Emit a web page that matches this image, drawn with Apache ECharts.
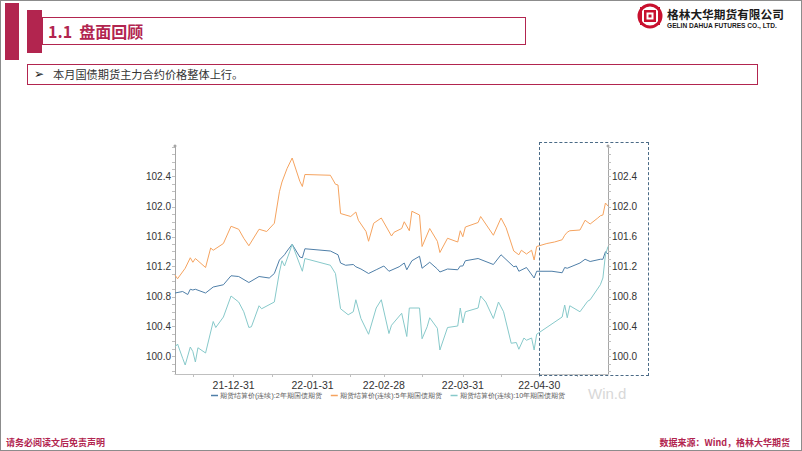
<!DOCTYPE html>
<html>
<head>
<meta charset="utf-8">
<script src="https://cdn.jsdelivr.net/npm/echarts@6/dist/echarts.min.js"></script>
<style>
  html,body{margin:0;padding:0;background:#fff;}
  body{width:802px;height:451px;position:relative;overflow:hidden;font-family:"Noto Sans CJK SC","Noto Sans",sans-serif;}
  .abs{position:absolute;}
  #chart{position:absolute;left:0;top:0;width:802px;height:451px;}
</style>
</head>
<body>
<div id="chart"></div>
<div class="abs" style="left:0;top:0;width:802px;height:451px;box-sizing:border-box;border:1px solid #8c8c8c;pointer-events:none;"></div>
<!-- header bars and title -->
<div class="abs" style="left:5px;top:3px;width:14px;height:57px;background:#b2254f;"></div>
<div class="abs" style="left:42px;top:17px;width:484px;height:28px;box-sizing:border-box;border:1px solid #b2254f;background:#fff;"></div>
<div class="abs" style="left:27px;top:10px;width:15px;height:43px;background:#b2254f;"></div>
<div class="abs" style="left:48px;top:17px;height:28px;line-height:28px;font-size:16px;font-weight:bold;color:#b2254f;white-space:nowrap;">1.1&nbsp;&nbsp;盘面回顾</div>
<!-- logo -->
<svg class="abs" style="left:636px;top:3px;" width="28" height="26" viewBox="0 0 28 26">
  <circle cx="14" cy="13" r="11" fill="none" stroke="#c8102e" stroke-width="3"/>
  <rect x="8" y="7" width="12" height="12" fill="#c8102e"/>
  <rect x="10.5" y="9.5" width="7" height="7" fill="#fff"/>
  <rect x="12.5" y="11.5" width="3" height="3" fill="#c8102e"/>
  <rect x="4" y="4" width="2" height="18" fill="#c8102e"/>
  <rect x="22" y="4" width="2" height="18" fill="#c8102e"/>
</svg>
<div class="abs" style="left:667px;top:6px;font-size:11.7px;font-weight:bold;color:#1a1a1a;white-space:nowrap;line-height:16px;">格林大华期货有限公司</div>
<div class="abs" style="left:667px;top:22px;font-size:6.6px;font-weight:bold;color:#1a1a1a;white-space:nowrap;line-height:8px;font-family:'Liberation Sans',Arial,sans-serif;">GELIN DAHUA FUTURES CO., LTD.</div>
<!-- bullet box -->
<div class="abs" style="left:27px;top:64px;width:731px;height:21px;box-sizing:border-box;border:1px solid #b2254f;"></div>
<div class="abs" style="left:34px;top:64px;height:21px;line-height:21px;font-size:12px;color:#222;font-family:'DejaVu Sans',sans-serif;">➢</div>
<div class="abs" style="left:53px;top:64px;height:21px;line-height:21px;font-size:11.2px;color:#333;white-space:nowrap;font-family:'Noto Sans CJK SC',serif;">本月国债期货主力合约价格整体上行。</div>
<!-- highlight box & watermark -->
<div class="abs" style="left:539px;top:142px;width:110px;height:234px;box-sizing:border-box;border:1px dashed #4a6a86;pointer-events:none;"></div>
<div class="abs" style="left:588px;top:385px;font-size:15px;color:#d8d8d8;font-family:'Liberation Sans',sans-serif;">Win.d</div>
<!-- footer -->
<div class="abs" style="left:6px;top:437px;font-size:9px;font-weight:bold;color:#b2254f;white-space:nowrap;line-height:12px;">请务必阅读文后免责声明</div>
<div class="abs" style="right:12px;top:437px;font-size:9px;font-weight:bold;color:#b2254f;white-space:nowrap;line-height:12px;">数据来源：Wind，格林大华期货</div>

<script>
// ---- data ----
const seriesNames = ['期货结算价(连续):2年期国债期货','期货结算价(连续):5年期国债期货','期货结算价(连续):10年期国债期货'];

const dates2y = ['2021-12-08','2021-12-11','2021-12-13','2021-12-14','2021-12-15','2021-12-16','2021-12-20','2021-12-23','2021-12-27','2021-12-30',
 '2022-01-02','2022-01-06','2022-01-10','2022-01-14','2022-01-16','2022-01-18','2022-01-20','2022-01-21','2022-01-23','2022-01-26','2022-01-27','2022-01-28',
 '2022-02-07','2022-02-10','2022-02-11','2022-02-13','2022-02-16','2022-02-17','2022-02-19','2022-02-22','2022-02-25','2022-02-28',
 '2022-03-02','2022-03-06','2022-03-08','2022-03-09','2022-03-11','2022-03-14','2022-03-15','2022-03-18','2022-03-21','2022-03-22','2022-03-25','2022-03-29','2022-03-30','2022-03-31',
 '2022-04-01','2022-04-06','2022-04-12','2022-04-15','2022-04-20','2022-04-21','2022-04-22','2022-04-25','2022-04-28','2022-04-29',
 '2022-05-05','2022-05-09','2022-05-10','2022-05-11','2022-05-16','2022-05-18','2022-05-20','2022-05-24','2022-05-25','2022-05-26','2022-05-27'];
const values2y = [100.85,100.87,100.83,100.90,100.89,100.90,100.85,100.93,100.96,101.08,
 101.07,100.99,101.07,101.05,101.11,101.29,101.36,101.41,101.50,101.33,101.32,101.44,
 101.41,101.36,101.25,101.22,101.23,101.20,101.17,101.11,101.16,101.21,
 101.14,101.20,101.25,101.16,101.28,101.34,101.18,101.26,101.17,101.13,101.17,101.16,101.21,101.21,
 101.28,101.31,101.23,101.36,101.20,101.21,101.14,101.19,101.05,101.14,
 101.14,101.12,101.19,101.18,101.25,101.30,101.27,101.30,101.30,101.40,101.37];

const dates5y = ['2021-12-08','2021-12-09','2021-12-12','2021-12-14','2021-12-15','2021-12-16','2021-12-20','2021-12-22','2021-12-23','2021-12-27','2021-12-30',
 '2022-01-02','2022-01-04','2022-01-06','2022-01-10','2022-01-13','2022-01-16','2022-01-18','2022-01-19','2022-01-21','2022-01-23','2022-01-26','2022-01-27','2022-01-28',
 '2022-02-07','2022-02-09','2022-02-10','2022-02-11','2022-02-15','2022-02-17','2022-02-18','2022-02-21','2022-02-22','2022-02-24','2022-02-27',
 '2022-03-03','2022-03-04','2022-03-07','2022-03-08','2022-03-10','2022-03-11','2022-03-14','2022-03-15','2022-03-18','2022-03-21','2022-03-22','2022-03-25','2022-03-29','2022-03-30','2022-03-31',
 '2022-04-01','2022-04-06','2022-04-07','2022-04-12','2022-04-15','2022-04-17','2022-04-20','2022-04-22','2022-04-23','2022-04-25','2022-04-27','2022-04-28','2022-04-29',
 '2022-05-03','2022-05-06','2022-05-09','2022-05-10','2022-05-11','2022-05-12','2022-05-16','2022-05-18','2022-05-20','2022-05-23','2022-05-24','2022-05-25','2022-05-26','2022-05-27'];
const values5y = [101.09,101.04,101.18,101.32,101.26,101.31,101.19,101.45,101.42,101.51,101.74,
 101.70,101.58,101.48,101.70,101.67,101.78,102.20,102.33,102.51,102.65,102.34,102.27,102.43,
 102.42,102.30,102.29,101.91,101.87,101.93,101.82,101.67,101.54,101.78,101.85,
 101.61,101.66,101.71,101.80,101.68,101.94,101.89,101.47,101.71,101.54,101.39,101.58,101.53,101.68,101.60,
 101.73,101.79,101.87,101.62,101.85,101.72,101.41,101.36,101.42,101.37,101.42,101.29,101.47,
 101.51,101.53,101.56,101.62,101.66,101.68,101.69,101.82,101.77,101.85,101.88,101.89,102.05,102.01];

const dates10y = ['2021-12-08','2021-12-09','2021-12-11','2021-12-12','2021-12-14','2021-12-15','2021-12-16','2021-12-17','2021-12-20','2021-12-23','2021-12-24','2021-12-27','2021-12-30',
 '2022-01-02','2022-01-04','2022-01-06','2022-01-07','2022-01-10','2022-01-11','2022-01-16','2022-01-18','2022-01-19','2022-01-20','2022-01-22','2022-01-23','2022-01-27','2022-01-28',
 '2022-02-07','2022-02-09','2022-02-11','2022-02-14','2022-02-16','2022-02-17','2022-02-19','2022-02-22','2022-02-25','2022-02-27',
 '2022-03-02','2022-03-03','2022-03-07','2022-03-09','2022-03-10','2022-03-14','2022-03-15','2022-03-17','2022-03-18','2022-03-21','2022-03-22','2022-03-25','2022-03-29','2022-03-30','2022-03-31',
 '2022-04-01','2022-04-06','2022-04-07','2022-04-09','2022-04-12','2022-04-14','2022-04-16','2022-04-19','2022-04-21','2022-04-22','2022-04-24','2022-04-25','2022-04-27','2022-04-28','2022-04-29',
 '2022-05-09','2022-05-10','2022-05-11','2022-05-12','2022-05-16','2022-05-19','2022-05-20','2022-05-24','2022-05-25','2022-05-26','2022-05-27'];
const values10y = [100.13,100.17,99.98,99.89,100.13,100.07,99.93,100.12,100.05,100.47,100.39,100.53,100.81,
 100.73,100.60,100.39,100.40,100.68,100.64,100.73,101.13,101.28,101.21,101.40,101.50,101.14,101.31,
 101.22,101.11,100.64,100.56,100.60,100.76,100.51,100.30,100.65,100.76,
 100.31,100.42,100.58,100.27,100.65,100.65,100.24,100.40,100.52,100.38,100.09,100.39,100.41,100.65,100.45,
 100.60,100.65,100.81,100.73,100.51,100.73,100.60,100.18,100.19,100.10,100.25,100.22,100.25,100.09,100.30,
 100.53,100.69,100.52,100.68,100.60,100.74,100.76,100.96,101.05,101.36,101.47];

const xLabelDates = ['2021-12-31','2022-01-31','2022-02-28','2022-03-31','2022-04-30'];
const xTickDates = ['2021-12-15','2021-12-31','2022-01-15','2022-01-31','2022-02-15','2022-02-28','2022-03-15','2022-03-31','2022-04-15','2022-04-30','2022-05-15'];
const yLabels = [100.0,100.4,100.8,101.2,101.6,102.0,102.4];
const yTicks = [99.8,99.9,100.0,100.1,100.2,100.3,100.4,100.5,100.6,100.7,100.8,100.9,101.0,101.1,101.2,101.3,101.4,101.5,101.6,101.7,101.8,101.9,102.0,102.1,102.2,102.3,102.4,102.5,102.6,102.7,102.8];
const xMin = '2021-12-08', xMax = '2022-05-27';
const yMin = 99.77, yMax = 102.81;
const colors = ['#4f7fa8','#f5a35f','#87c9ca'];

// ---- build ----
function ts(s){const p=s.split('-').map(Number);return new Date(p[0],p[1]-1,p[2]).getTime();}
function pad(n){return (n<10?'0':'')+n;}
function fmt(v){const d=new Date(v);return String(d.getFullYear()).slice(2)+'-'+pad(d.getMonth()+1)+'-'+pad(d.getDate());}
function pairs(ds,vs){return ds.map((d,i)=>[ts(d),vs[i]]);}

const chart = echarts.init(document.getElementById('chart'), null, {renderer:'svg', width:802, height:451});
const yAxisBase = (pos) => ({
  type:'value', position:pos, min:yMin, max:yMax,
  axisLine:{show:true, lineStyle:{color:'#a6a6a6', width:1}, symbol:['none','circle'], symbolSize:[3,3]},
  axisTick:{show:true, customValues:yTicks, length:3, lineStyle:{color:'#bfbfbf'}},
  axisLabel:{customValues:yLabels, formatter:(v)=>Number(v).toFixed(1), fontSize:10, color:'#333', margin:4, fontFamily:'Liberation Sans'},
  splitLine:{show:false}
});
chart.setOption({
  animation:false,
  color:colors,
  grid:{left:175, right:194, top:146, bottom:77, containLabel:false},
  legend:{
    data:seriesNames, left:211, top:392, padding:0, itemWidth:7, itemHeight:1.5, itemGap:9, icon:'rect',
    textStyle:{fontSize:7.2, color:'#595959', padding:[0,0,0,-3]}
  },
  xAxis:{
    type:'value', min:ts(xMin), max:ts(xMax),
    axisLine:{show:true, lineStyle:{color:'#bfbfbf'}},
    axisTick:{show:true, customValues:xTickDates.map(ts), length:3, lineStyle:{color:'#bfbfbf'}},
    axisLabel:{customValues:xLabelDates.map(ts), formatter:(v)=>fmt(v), fontSize:10.5, color:'#333', margin:5, fontFamily:'Liberation Sans'},
    splitLine:{show:false}
  },
  yAxis:[yAxisBase('left'), yAxisBase('right')],
  series:[
    {name:seriesNames[0], type:'line', showSymbol:false, lineStyle:{width:1}, data:pairs(dates2y, values2y)},
    {name:seriesNames[1], type:'line', showSymbol:false, lineStyle:{width:1}, data:pairs(dates5y, values5y)},
    {name:seriesNames[2], type:'line', showSymbol:false, lineStyle:{width:1}, data:pairs(dates10y, values10y)}
  ]
});
</script>
</body>
</html>
